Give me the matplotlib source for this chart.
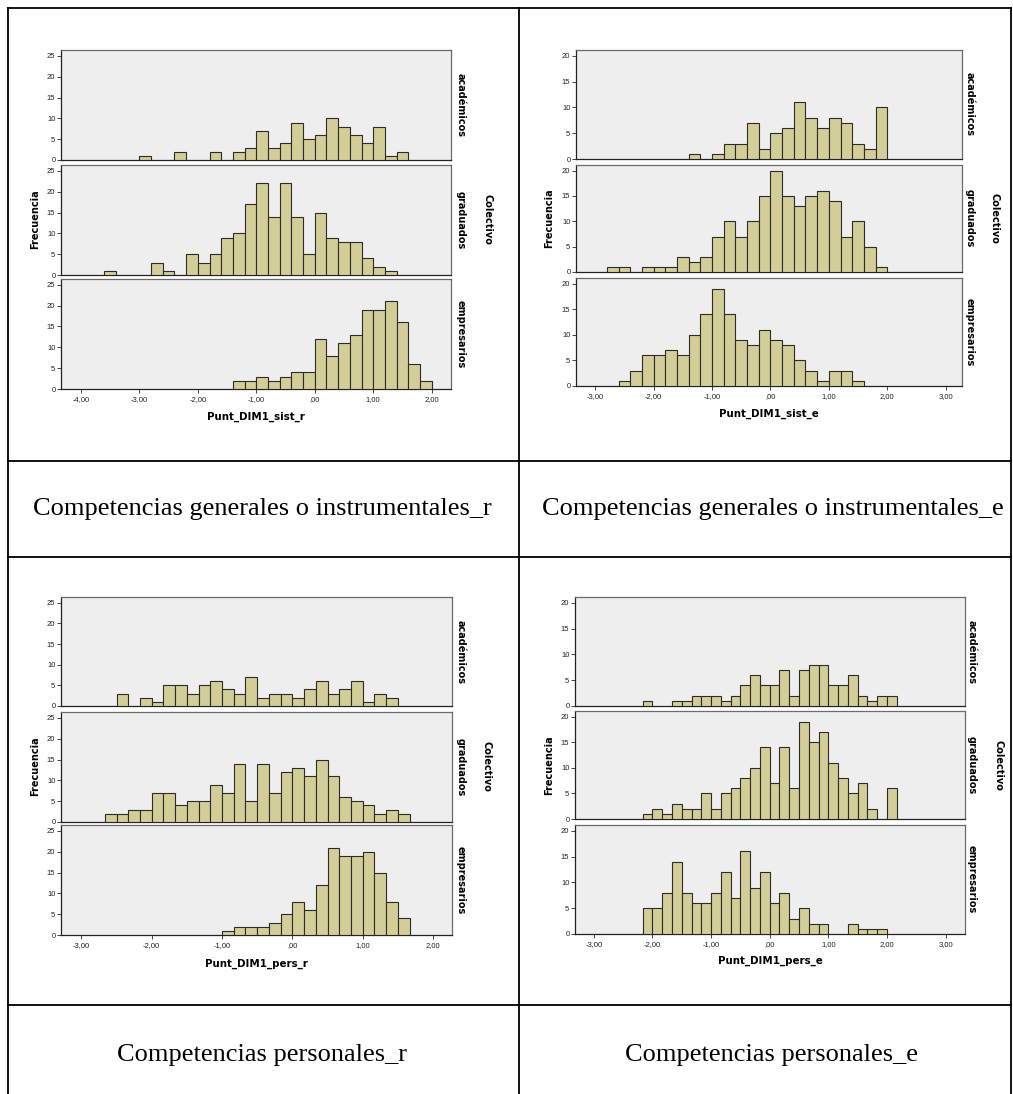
import matplotlib
matplotlib.use("Agg")
import matplotlib.pyplot as plt
from matplotlib.lines import Line2D
from matplotlib.ticker import FuncFormatter

# ---- data -------------------------------------------------------------
GROUPS = ["académicos", "graduados", "empresarios"]

# Competencias generales o instrumentales_r  (bin width 0.2)
SIST_R_BIN = 0.2
SIST_R_START = [-3.0, -3.6, -1.4]
SIST_R_ACAD = [1, 0, 0, 2, 0, 0, 2, 0, 2, 3, 7, 3, 4, 9, 5, 6, 10, 8, 6, 4, 8, 1, 2]
SIST_R_GRAD = [1, 0, 0, 0, 3, 1, 0, 5, 3, 5, 9, 10, 17, 22, 14, 22, 14, 5, 15, 9, 8, 8, 4, 2, 1]
SIST_R_EMPR = [2, 2, 3, 2, 3, 4, 4, 12, 8, 11, 13, 19, 19, 21, 16, 6, 2]

# Competencias generales o instrumentales_e  (bin width 0.2)
SIST_E_BIN = 0.2
SIST_E_START = [-1.4, -2.8, -2.6]
SIST_E_ACAD = [1, 0, 1, 3, 3, 7, 2, 5, 6, 11, 8, 6, 8, 7, 3, 2, 10]
SIST_E_GRAD = [1, 1, 0, 1, 1, 1, 3, 2, 3, 7, 10, 7, 10, 15, 20, 15, 13, 15, 16, 14, 7, 10, 5, 1]
SIST_E_EMPR = [1, 3, 6, 6, 7, 6, 10, 14, 19, 14, 9, 8, 11, 9, 8, 5, 3, 1, 3, 3, 1]

# Competencias personales_r  (bin width 1/6)
PERS_R_BIN = 1 / 6
PERS_R_START = [-2.5, -2.6667, -1.0]
PERS_R_ACAD = [3, 0, 2, 1, 5, 5, 3, 5, 6, 4, 3, 7, 2, 3, 3, 2, 4, 6, 3, 4, 6, 1, 3, 2]
PERS_R_GRAD = [2, 2, 3, 3, 7, 7, 4, 5, 5, 9, 7, 14, 5, 14, 7, 12, 13, 11, 15, 11, 6, 5, 4, 2, 3, 2]
PERS_R_EMPR = [1, 2, 2, 2, 3, 5, 8, 6, 12, 21, 19, 19, 20, 15, 8, 4]

# Competencias personales_e  (bin width 1/6)
PERS_E_BIN = 1 / 6
PERS_E_START = [-2.1667, -2.1667, -2.1667]
PERS_E_ACAD = [1, 0, 0, 1, 1, 2, 2, 2, 1, 2, 4, 6, 4, 4, 7, 2, 7, 8, 8, 4, 4, 6, 2, 1, 2, 2]
PERS_E_GRAD = [1, 2, 1, 3, 2, 2, 5, 2, 5, 6, 8, 10, 14, 7, 14, 6, 19, 15, 17, 11, 8, 5, 7, 2, 0, 6]
PERS_E_EMPR = [5, 5, 8, 14, 8, 6, 6, 8, 12, 7, 16, 9, 12, 6, 8, 3, 5, 2, 2, 0, 0, 2, 1, 1, 1]

X_LABELS = ["Punt_DIM1_sist_r", "Punt_DIM1_sist_e", "Punt_DIM1_pers_r", "Punt_DIM1_pers_e"]
CAPTIONS = ["Competencias generales o instrumentales_r",
            "Competencias generales o instrumentales_e",
            "Competencias personales_r",
            "Competencias personales_e"]

# ---- styling ----------------------------------------------------------
W, H = 1013, 1094
BAR_FACE = "#D3CE97"
BAR_EDGE = "#2b2b2b"
PANEL_BG = "#EEEEEE"
FRAME = "#6a6a6a"
SANS = "DejaVu Sans"
TICK_FONT = "Liberation Sans"

fig = plt.figure(figsize=(W / 100, H / 100), dpi=100)
fig.patch.set_facecolor("white")


def px_axes(l, t, r, b):
    return fig.add_axes([l / W, 1 - b / H, (r - l) / W, (b - t) / H])


def comma_fmt(v, _pos):
    s = f"{v:.2f}".replace(".", ",")
    if s.startswith("0,"):
        s = s[1:]
    elif s.startswith("-0,"):
        s = s[2:]
    return s


def draw_panel(left, right, rows, xlim, xticks, ymax, yticks_max,
               starts, width, series, xlabel, xlabel_y,
               freq_x, col_x, row_lab_x):
    axes = []
    for i, ((top, bot), start, counts) in enumerate(zip(rows, starts, series)):
        ax = px_axes(left, top, right, bot)
        ax.set_facecolor(PANEL_BG)
        lefts = [start + k * width for k, c in enumerate(counts) if c > 0]
        heights = [c for c in counts if c > 0]
        ax.bar(lefts, heights, width=width, align="edge", color=BAR_FACE,
               edgecolor=BAR_EDGE, linewidth=0.8, zorder=3)
        ax.set_xlim(*xlim)
        ax.set_ylim(0, ymax)
        ax.set_yticks(list(range(0, yticks_max + 1, 5)))
        ax.tick_params(axis="y", length=3, width=0.7, color="#444444",
                       pad=1, labelsize=5.5, labelcolor="#222222")
        for lab in ax.get_yticklabels():
            lab.set_family(TICK_FONT)
        for sp in ax.spines.values():
            sp.set_color(FRAME)
            sp.set_linewidth(0.9)
        ax.spines["bottom"].set_color("#222222")
        ax.spines["left"].set_color("#222222")
        if i < 2:
            ax.set_xticks([])
        else:
            ax.set_xticks(xticks)
            ax.xaxis.set_major_formatter(FuncFormatter(comma_fmt))
            ax.tick_params(axis="x", length=3, width=0.7, color="#444444",
                           pad=2, labelsize=5.5, labelcolor="#222222")
            for lab in ax.get_xticklabels():
                lab.set_family(TICK_FONT)
        # group label on the right side
        yc = (top + bot) / 2
        fig.text(row_lab_x / W, 1 - yc / H, GROUPS[i], rotation=-90,
                 ha="center", va="center", fontsize=7, fontweight="bold",
                 family=SANS)
        axes.append(ax)
    ymid = (rows[0][0] + rows[-1][1]) / 2
    fig.text(freq_x / W, 1 - ymid / H, "Frecuencia", rotation=90,
             ha="center", va="center", fontsize=7, fontweight="bold", family=SANS)
    fig.text(col_x / W, 1 - ymid / H, "Colectivo", rotation=-90,
             ha="center", va="center", fontsize=7, fontweight="bold", family=SANS)
    fig.text((left + right) / 2 / W, 1 - xlabel_y / H, xlabel,
             ha="center", va="center", fontsize=7.4, fontweight="bold", family=SANS)
    return axes


draw_panel(61, 451, [(50, 160), (165, 275), (279, 389)], (-4.34, 2.33),
           [-4, -3, -2, -1, 0, 1, 2], 26.4, 25,
           SIST_R_START, SIST_R_BIN, [SIST_R_ACAD, SIST_R_GRAD, SIST_R_EMPR],
           X_LABELS[0], 417, 35, 487, 461)

draw_panel(576, 962, [(50, 159), (165, 272), (278, 386)], (-3.33, 3.28),
           [-3, -2, -1, 0, 1, 2, 3], 21.1, 20,
           SIST_E_START, SIST_E_BIN, [SIST_E_ACAD, SIST_E_GRAD, SIST_E_EMPR],
           X_LABELS[1], 414, 549, 994, 970)

draw_panel(61, 452, [(597, 706), (712, 822), (825, 935)], (-3.29, 2.27),
           [-3, -2, -1, 0, 1, 2], 26.4, 25,
           PERS_R_START, PERS_R_BIN, [PERS_R_ACAD, PERS_R_GRAD, PERS_R_EMPR],
           X_LABELS[2], 964, 35, 486, 461)

draw_panel(575, 965, [(597, 706), (711, 819), (825, 934)], (-3.32, 3.33),
           [-3, -2, -1, 0, 1, 2, 3], 21.1, 20,
           PERS_E_START, PERS_E_BIN, [PERS_E_ACAD, PERS_E_GRAD, PERS_E_EMPR],
           X_LABELS[3], 961, 549, 998, 972)

# ---- table grid and captions -----------------------------------------
def hline(y, x0=8, x1=1011):
    fig.add_artist(Line2D([x0 / W, x1 / W], [1 - y / H, 1 - y / H],
                          transform=fig.transFigure, color="black", lw=1.3))


def vline(x, y0=8, y1=H):
    fig.add_artist(Line2D([x / W, x / W], [1 - y0 / H, 1 - y1 / H],
                          transform=fig.transFigure, color="black", lw=1.3))


for y in (8, 461, 557, 1005):
    hline(y)
for x in (8, 519, 1011):
    vline(x)

for (cx, cy), text in zip([(262, 509), (773, 509), (262, 1055), (771, 1055)], CAPTIONS):
    fig.text(cx / W, 1 - cy / H, text, ha="center", va="center",
             fontsize=19, family="Liberation Serif", color="black")

fig.savefig("out.png", dpi=100)
